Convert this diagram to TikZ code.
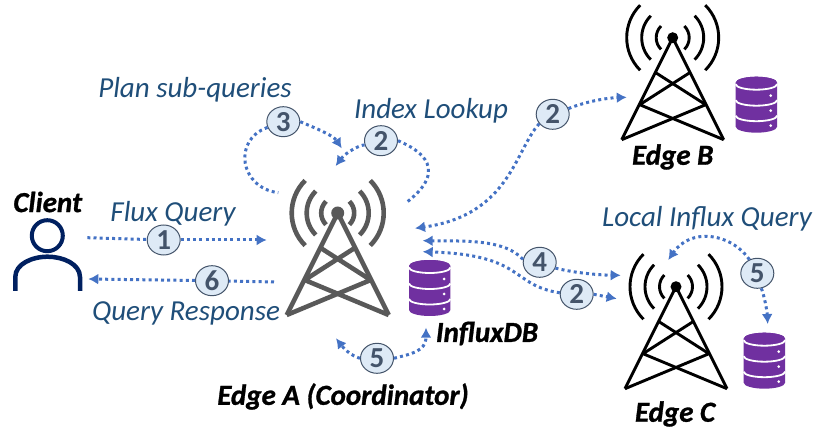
\documentclass[tikz,border=0pt]{standalone}
\usepackage{fontspec}
\setmainfont{Carlito}
\newfontface\namefont[FakeBold=1]{Carlito Bold Italic}
\usetikzlibrary{arrows.meta,shapes.geometric}
\definecolor{flowblue}{HTML}{4472C4}
\definecolor{labelblue}{HTML}{1F4E79}
\definecolor{badgefill}{HTML}{DEEAF6}
\definecolor{badgeink}{HTML}{44546A}
\definecolor{dbpurple}{HTML}{7030A0}
\definecolor{towergrey}{HTML}{595959}
\definecolor{personblue}{HTML}{002060}
\tikzset{
  flow/.style={draw=flowblue,line width=3pt,dash pattern=on 3pt off 3.2pt},
  flowtip/.style={flow,-{Latex[length=10pt,width=11pt,fill=flowblue]}},
  badge/.style={ellipse,draw=badgeink,fill=badgefill,line width=1pt,minimum width=33pt,minimum height=30pt,inner sep=0pt,text=badgeink,font=\fontsize{29}{29}\selectfont\bfseries},
  steplabel/.style={text=labelblue,font=\fontsize{29}{31}\selectfont\itshape,inner sep=0pt},
  namelabel/.style={text=black,font=\fontsize{29}{31}\selectfont\namefont,inner sep=0pt},
}
\newcommand{\towericon}[5]{% x, y, colour, line width, hub radius
  \begin{scope}[shift={(#1,#2)},draw=#3,line width=#4,line join=round]
    \draw (-51,102) -- (0,0) -- (51,102);
    \draw (-51,102) -- (33,67) -- (-17,35);
    \draw (51,102) -- (-33,67) -- (17,35);
    \foreach \r in {16.5,31,46}{
      \draw (45:\r) arc[start angle=45,end angle=-45,radius=\r];
      \draw (135:\r) arc[start angle=135,end angle=225,radius=\r];
    }
    \fill[#3] (0,0) circle[radius=#5];
  \end{scope}}
\newcommand{\dbicon}[2]{% left, top
  \begin{scope}[shift={(#1,#2)}]
    \fill[dbpurple] (0,6) arc[x radius=20.7,y radius=6,start angle=180,end angle=360] -- (41.4,50)
      arc[x radius=20.7,y radius=6,start angle=0,end angle=180] -- cycle;
    \fill[dbpurple] (20.7,6) ellipse[x radius=20.7,y radius=6];
    \foreach \yy in {7.5,23.5,39}{
      \draw[white,line width=1.8pt] (0,\yy) arc[x radius=20.7,y radius=5.5,start angle=180,end angle=0];
    }
    \foreach \yy in {19,34,49}{\fill[white] (35,\yy) circle[radius=1.5];}
  \end{scope}}
\begin{document}
\begin{tikzpicture}[x=1pt,y=-1pt]
\useasboundingbox (0,0) rectangle (814,430);
% towers and databases
\towericon{337.7}{213}{towergrey}{4.6pt}{6.5}
\towericon{672.7}{37.7}{black}{2.9pt}{5.5}
\towericon{676}{286.7}{black}{2.9pt}{5.5}
\dbicon{409}{260}
\dbicon{735.7}{76.7}
\dbicon{743.7}{332.7}
% client
\draw[personblue,line width=4pt] (47.3,235.7) circle[radius=15.5];
\draw[personblue,line width=4.5pt] (15.3,291) -- (15.3,277) .. controls (15.3,264) and (32,256.7) .. (47.7,256.7) .. controls (63,256.7) and (80,264) .. (80,277) -- (80,291);
% badges
\node[badge] (b1) at (163.7,240) {1};
\node[badge] (b6) at (212,280.7) {6};
\node[badge] (b3) at (283.3,121.7) {3};
\node[badge] (b2i) at (381,140.7) {2};
\node[badge] (b2b) at (552.7,114.3) {2};
\node[badge] (b4) at (539.7,262.3) {4};
\node[badge] (b2c) at (576.7,294.3) {2};
\node[badge] (b5a) at (377,358.3) {5};
\node[badge] (b5c) at (757.3,273.3) {5};
% free connector ends
\coordinate (s1) at (87.3,237.7);
\coordinate (e1) at (266.7,240);
\coordinate (s6) at (274,282);
\coordinate (e6) at (88.3,279);
\coordinate (f3) at (278.3,192.7);
\coordinate (e3) at (341.7,148.3);
\coordinate (e2i) at (335.7,166);
\coordinate (f2i) at (406.7,202.3);
\coordinate (e2b) at (626.7,97.3);
\coordinate (w2b) at (415,228.3);
\coordinate (w4) at (422.7,240.7);
\coordinate (e4) at (620.7,275.3);
\coordinate (w2c) at (422.7,251.7);
\coordinate (e2c) at (616.7,298.7);
\coordinate (w5a) at (336,338.3);
\coordinate (e5a) at (426,327.7);
\coordinate (w5c) at (668.3,260);
\coordinate (e5c) at (767.7,324);
% connectors
\draw[flow] (s1) -- (b1);
\draw[flowtip] (b1) -- (e1);
\draw[flow] (s6) -- (b6);
\draw[flowtip] (b6) -- (e6);
\draw[flow] (b3.200) .. controls (232,140) and (240,188) .. (f3);
\draw[flowtip] (b3.east) .. controls (315,128) and (333,135) .. (e3);
\draw[flowtip] (b2i.195) .. controls (362,144) and (346,152) .. (e2i);
\draw[flow] (b2i.east) .. controls (410,146) and (455,165) .. (f2i);
\draw[flowtip] (b2b.20) .. controls (585,102) and (605,98) .. (e2b);
\draw[flowtip] (b2b.215) .. controls (515,150) and (510,215) .. (w2b);
\draw[flowtip] (b4.170) .. controls (505,240) and (470,241) .. (w4);
\draw[flowtip] (b4.-20) .. controls (570,272) and (595,275) .. (e4);
\draw[flowtip] (b2c.175) .. controls (510,285) and (525,255) .. (w2c);
\draw[flowtip] (b2c.east) -- (e2c);
\draw[flowtip] (b5a.west) .. controls (352,356) and (345,350) .. (w5a);
\draw[flowtip] (b5a.east) .. controls (410,354) and (426,352) .. (e5a);
\draw[flowtip] (b5c.120) .. controls (730,232) and (690,228) .. (w5c);
\draw[flowtip] (b5c.-75) .. controls (764,295) and (767,310) .. (e5c);
% labels
\node[namelabel] (lclient) at (47.7,202) {Client};
\node[steplabel] (lflux) at (173,214) {Flux Query};
\node[steplabel] (lresp) at (186,313.5) {Query Response};
\node[steplabel] (lplan) at (195,89.5) {Plan sub-queries};
\node[steplabel] (lindex) at (431,110.5) {Index Lookup};
\node[steplabel] (llocal) at (707,218.5) {Local Influx Query};
\node[namelabel] (linflux) at (487,333.5) {InfluxDB};
\node[namelabel] (la) at (343,396.5) {Edge A (Coordinator)};
\node[namelabel] (lb) at (672.7,157) {Edge B};
\node[namelabel] (lc) at (675,414) {Edge C};
\end{tikzpicture}
\end{document}
